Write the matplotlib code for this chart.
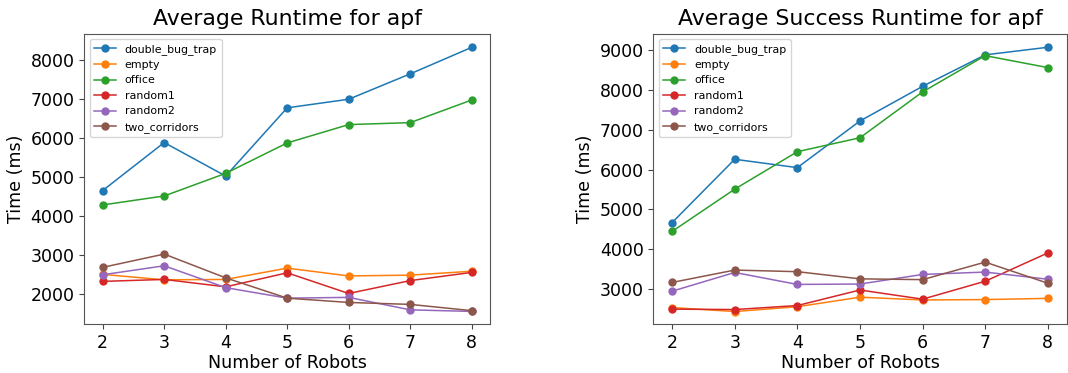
import numpy as np
import matplotlib
matplotlib.use("Agg")
import matplotlib.pyplot as plt

robots = [2, 3, 4, 5, 6, 7, 8]
maps = ["double_bug_trap", "empty", "office", "random1", "random2", "two_corridors"]

# average runtime (ms)
avg_double_bug_trap = [4660, 5890, 5030, 6780, 7000, 7650, 8330]
avg_empty = [2510, 2370, 2380, 2670, 2470, 2490, 2590]
avg_office = [4290, 4520, 5100, 5880, 6350, 6400, 6980]
avg_random1 = [2330, 2380, 2190, 2550, 2020, 2350, 2560]
avg_random2 = [2500, 2730, 2170, 1900, 1920, 1600, 1560]
avg_two_corridors = [2690, 3030, 2420, 1900, 1790, 1740, 1580]

# average success runtime (ms)
succ_double_bug_trap = [4670, 6260, 6050, 7220, 8090, 8880, 9070]
succ_empty = [2540, 2440, 2560, 2800, 2730, 2740, 2770]
succ_office = [4450, 5510, 6450, 6800, 7950, 8860, 8560]
succ_random1 = [2500, 2490, 2590, 2980, 2750, 3200, 3910]
succ_random2 = [2950, 3420, 3120, 3130, 3370, 3430, 3250]
succ_two_corridors = [3170, 3480, 3440, 3260, 3240, 3680, 3150]

avg_data = [avg_double_bug_trap, avg_empty, avg_office, avg_random1, avg_random2, avg_two_corridors]
succ_data = [succ_double_bug_trap, succ_empty, succ_office, succ_random1, succ_random2, succ_two_corridors]

fig = plt.figure(figsize=(10.68, 3.73), dpi=100)
ax1 = fig.add_axes([0.0789, 0.1306, 0.380, 0.779])
ax2 = fig.add_axes([0.6117, 0.1306, 0.387, 0.779])

for ax, data, title, ylim, yt in [
    (ax1, avg_data, "Average Runtime for apf", (1230, 8680), range(2000, 8001, 1000)),
    (ax2, succ_data, "Average Success Runtime for apf", (2120, 9410), range(3000, 9001, 1000)),
]:
    for name, vals in zip(maps, data):
        ax.plot(robots, vals, marker="o", markersize=5, linewidth=1.1, label=name)
    ax.set_title(title, fontsize=15.8)
    ax.set_xlabel("Number of Robots", fontsize=12.6, labelpad=1.5)
    ax.set_ylabel("Time (ms)", fontsize=12.6)
    ax.set_ylim(*ylim)
    ax.set_xlim(1.7, 8.3)
    ax.set_xticks(robots)
    ax.set_yticks(list(yt))
    ax.tick_params(labelsize=12.5, color="#444444")
    for s in ax.spines.values():
        s.set_color("#555555")
    ax.legend(loc="upper left", fontsize=7.9)

fig.savefig("out.png", dpi=100)
